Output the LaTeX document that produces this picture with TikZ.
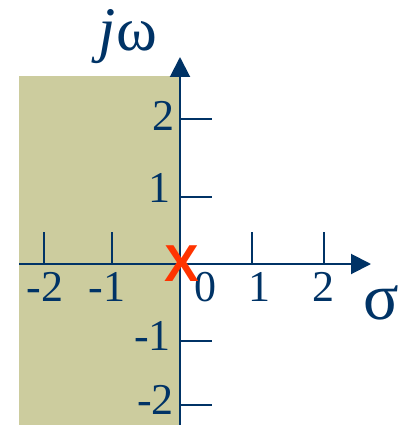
\documentclass[tikz,border=0pt]{standalone}
\usepackage{fontspec}
\setmainfont{Liberation Serif}
\newfontfamily\xfont{Liberation Sans}
\usetikzlibrary{arrows.meta}
\definecolor{navy}{RGB}{0,51,102}
\definecolor{shadecol}{RGB}{204,204,158}
\definecolor{xred}{RGB}{255,51,0}
\begin{document}
\begin{tikzpicture}[x=1pt,y=-1pt,
  axis/.style={navy,line width=2pt,-{Triangle[length=20pt,width=20pt]}},
  tickline/.style={navy,line width=1.8pt},
  lbl/.style={navy,inner sep=0pt,font=\fontsize{44}{44}\selectfont},
  biglbl/.style={navy,inner sep=0pt,font=\fontsize{62}{62}\selectfont}]
\useasboundingbox (0,0) rectangle (406,425);
\fill[shadecol] (19,76) rectangle (180,425);
\coordinate (ybot) at (180,425);
\coordinate (ytop) at (180,57);
\coordinate (xleft) at (19,264);
\coordinate (xright) at (371,264);
\draw[axis] (ybot) -- (ytop);
\draw[axis] (xleft) -- (xright);
\foreach \x/\n in {44/a,112/b,252/c,324/d} {
  \coordinate (ht\n) at (\x,232);
  \coordinate (hb\n) at (\x,264);
  \draw[tickline] (ht\n) -- (hb\n);
}
\foreach \y/\n in {119/a,197/b,341/c,405/d} {
  \coordinate (vl\n) at (180,\y);
  \coordinate (vr\n) at (212,\y);
  \draw[tickline] (vl\n) -- (vr\n);
}
% horizontal labels
\node[lbl] (hm2) at (45,287) {-2};
\node[lbl] (hm1) at (107,287) {-1};
\node[lbl] (h0) at (205,287) {0};
\node[lbl] (h1) at (259,287) {1};
\node[lbl] (h2) at (323,287) {2};
% vertical labels
\node[lbl,anchor=east] (v2) at (175,116) {2};
\node[lbl,anchor=east] (v1) at (171,188) {1};
\node[lbl,anchor=east] (vm1) at (171,336) {-1};
\node[lbl,anchor=east] (vm2) at (174,400) {-2};
% axis names
\node[biglbl] (jw) at (128,37) {\textit{j}ω};
\node[biglbl,font=\fontsize{66}{66}\selectfont] (sigma) at (381,303) {σ};
% pole marker
\node[xred,inner sep=0pt,font=\xfont\bfseries\fontsize{52}{52}\selectfont] (pole) at (182,264) {X};
\end{tikzpicture}
\end{document}
